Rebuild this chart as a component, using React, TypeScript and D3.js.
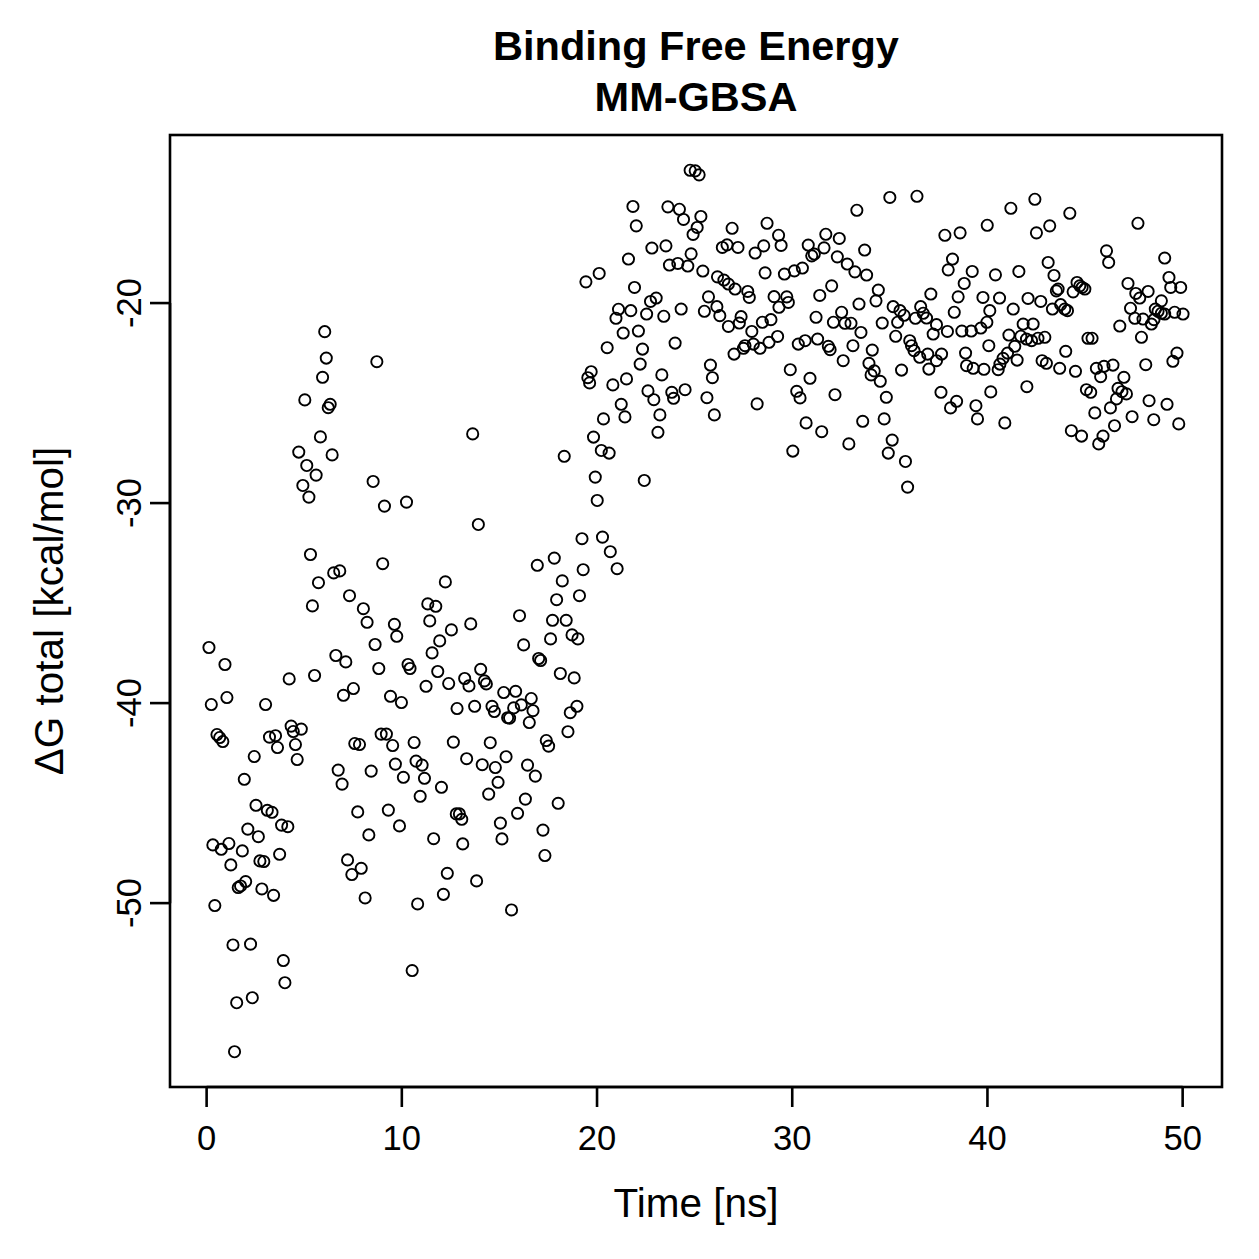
import React from "react";
import * as d3 from "d3";

// Sampled MM-GBSA binding free energy along the trajectory
const timeNs = [
  0.12,0.24,0.32,0.42,0.53,0.67,0.75,0.83,0.94,1.04,
  1.14,1.24,1.35,1.43,1.54,1.62,1.74,1.83,1.93,2.00,
  2.11,2.25,2.34,2.44,2.53,2.65,2.73,2.83,2.93,3.02,
  3.11,3.22,3.35,3.43,3.53,3.63,3.74,3.84,3.93,4.01,
  4.16,4.23,4.33,4.44,4.55,4.64,4.72,4.85,4.93,5.03,
  5.13,5.24,5.32,5.42,5.53,5.61,5.73,5.83,5.94,6.05,
  6.13,6.23,6.33,6.43,6.51,6.62,6.74,6.82,6.94,7.01,
  7.13,7.22,7.32,7.44,7.52,7.59,7.74,7.83,7.92,8.03,
  8.12,8.22,8.31,8.43,8.53,8.63,8.72,8.82,8.94,9.02,
  9.11,9.21,9.31,9.42,9.53,9.62,9.67,9.74,9.88,9.98,
  10.08,10.24,10.32,10.42,10.53,10.63,10.73,10.81,10.94,11.04,
  11.16,11.24,11.33,11.43,11.55,11.63,11.74,11.84,11.94,12.03,
  12.13,12.23,12.33,12.40,12.54,12.64,12.79,12.83,12.95,13.07,
  13.12,13.22,13.32,13.44,13.53,13.63,13.73,13.83,13.92,14.04,
  14.12,14.23,14.33,14.45,14.53,14.62,14.74,14.79,14.93,15.05,
  15.13,15.22,15.34,15.42,15.52,15.62,15.73,15.83,15.93,16.03,
  16.12,16.24,16.33,16.44,16.53,16.63,16.72,16.84,16.94,17.01,
  17.11,17.23,17.33,17.40,17.52,17.62,17.72,17.81,17.93,18.01,
  18.12,18.22,18.32,18.42,18.51,18.63,18.72,18.83,18.97,19.02,
  19.10,19.23,19.29,
  19.43,19.53,19.62,19.70,19.82,19.91,20.01,20.11,20.22,20.28,
  20.33,20.52,20.62,20.68,20.81,20.97,21.03,21.10,21.24,21.34,
  21.43,21.51,21.61,21.73,21.84,21.92,22.01,22.12,22.21,22.33,
  22.42,22.54,22.61,22.74,22.81,22.91,23.03,23.12,23.22,23.32,
  23.42,23.53,23.63,23.71,23.83,23.92,24.00,24.14,24.22,24.31,
  24.43,24.51,24.65,24.77,24.82,24.92,25.03,25.13,25.23,25.32,
  25.42,25.50,25.63,25.71,25.81,25.91,26.01,26.14,26.17,26.29,
  26.42,26.50,26.66,26.73,26.73,26.92,27.02,27.07,27.22,27.29,
  27.38,27.50,27.58,27.72,27.80,27.93,28.01,28.10,28.20,28.35,
  28.47,28.54,28.61,28.71,28.81,28.91,29.07,29.25,29.30,29.32,
  29.43,29.60,29.72,29.80,29.90,30.03,30.11,30.23,30.31,30.40,
  30.52,30.66,30.71,30.82,30.91,31.00,31.13,31.22,31.30,31.41,
  31.51,31.63,31.72,31.85,31.94,32.02,32.11,32.19,32.31,32.41,
  32.53,32.61,32.70,32.82,32.90,33.01,33.11,33.21,33.31,33.42,
  33.52,33.61,33.71,33.81,33.93,34.04,34.10,34.20,34.29,34.41,
  34.51,34.61,34.71,34.82,34.92,35.00,35.12,35.17,35.30,35.40,
  35.52,35.60,35.73,35.80,35.91,36.02,36.11,36.24,36.31,36.39,
  36.53,36.58,36.71,36.88,36.94,37.00,37.10,37.22,37.39,37.39,
  37.62,37.65,37.82,37.95,37.99,38.11,38.21,38.30,38.42,38.50,
  38.60,38.69,38.81,38.88,38.93,39.17,39.22,39.27,39.41,39.49,
  39.66,39.77,39.82,39.97,39.99,40.07,40.12,40.17,40.41,40.55,
  40.62,40.64,40.80,40.89,41.03,41.10,41.20,41.32,41.40,41.52,
  41.61,41.71,41.83,42.00,42.02,42.08,42.26,42.34,42.43,42.51,
  42.59,42.73,42.80,42.94,43.02,43.11,43.19,43.33,43.41,43.53,
  43.62,43.70,43.75,43.96,44.01,44.10,44.22,44.30,44.39,44.51,
  44.59,44.73,44.82,44.85,44.99,45.07,45.15,45.29,45.36,45.50,
  45.58,45.70,45.80,45.92,45.97,46.10,46.21,46.30,46.43,46.51,
  46.61,46.69,46.78,46.89,46.99,47.12,47.20,47.33,47.41,47.55,
  47.60,47.71,47.80,47.89,47.97,48.11,48.23,48.28,48.40,48.52,
  48.53,48.60,48.74,48.91,48.91,49.08,49.08,49.20,49.30,49.39,
  49.50,49.59,49.71,49.80,49.90,50.02,
];

const deltaG = [
  -37.22,-40.07,-47.09,-50.12,-41.57,-41.72,-47.31,-41.92,-38.07,-39.72,
  -47.02,-48.09,-52.09,-57.43,-54.98,-49.22,-49.14,-47.39,-43.81,-48.92,
  -46.30,-52.05,-54.73,-42.67,-45.11,-46.68,-47.89,-49.29,-47.92,-40.07,
  -45.36,-41.70,-45.46,-49.61,-41.63,-42.22,-47.56,-46.10,-52.87,-53.98,
  -46.18,-38.79,-41.15,-41.42,-42.07,-42.82,-27.45,-41.30,-29.12,-24.84,
  -28.12,-29.70,-32.57,-35.14,-38.62,-28.60,-33.98,-26.69,-23.71,-21.43,
  -22.75,-25.23,-25.06,-27.59,-33.49,-37.62,-43.35,-33.39,-44.05,-39.61,
  -37.94,-47.84,-34.63,-48.57,-39.27,-42.02,-45.44,-42.07,-48.26,-35.28,
  -49.74,-35.96,-46.59,-43.40,-28.92,-37.07,-22.93,-38.27,-41.55,-33.03,
  -30.15,-41.55,-45.35,-39.66,-42.12,-36.06,-43.05,-36.66,-46.14,-39.97,
  -43.71,-29.95,-38.07,-38.27,-53.37,-41.97,-42.90,-50.04,-44.66,-43.10,
  -43.76,-39.16,-35.04,-35.89,-37.49,-46.78,-35.16,-38.42,-36.89,-44.21,
  -49.56,-33.94,-48.51,-39.02,-36.34,-41.95,-45.54,-40.27,-45.54,-45.81,
  -47.04,-38.77,-42.78,-39.14,-36.04,-26.54,-40.16,-48.89,-31.07,-38.31,
  -43.08,-38.89,-39.04,-44.55,-41.98,-40.16,-40.42,-43.22,-43.96,-46.00,
  -46.79,-39.47,-42.68,-40.73,-40.75,-50.34,-40.24,-39.41,-45.51,-35.63,
  -40.09,-37.09,-44.80,-43.10,-40.97,-39.77,-40.38,-43.65,-33.11,-37.77,
  -37.87,-46.35,-47.62,-41.87,-42.15,-36.79,-35.86,-32.75,-34.83,-45.01,
  -38.52,-33.89,-27.66,-35.86,-41.43,-40.48,-36.59,-38.74,-40.16,-36.79,
  -34.63,-31.78,-33.33,
  -18.94,-23.73,-23.99,-23.43,-26.70,-28.70,-29.87,-18.52,-27.37,-31.70,
  -25.79,-22.23,-27.50,-32.43,-24.09,-20.76,-33.28,-20.31,-25.06,-21.50,
  -25.69,-23.79,-17.80,-20.38,-15.17,-19.22,-16.14,-21.40,-23.05,-22.30,
  -28.87,-20.55,-24.39,-19.92,-17.25,-24.83,-19.75,-26.46,-25.59,-23.59,
  -20.66,-17.14,-15.19,-18.10,-24.46,-24.76,-22.00,-18.02,-15.31,-20.30,
  -15.82,-24.33,-18.15,-13.36,-17.54,-16.57,-13.39,-16.22,-13.59,-15.67,
  -18.40,-20.41,-24.73,-19.69,-23.10,-23.73,-25.59,-20.18,-18.69,-20.63,
  -17.22,-18.85,-17.09,-21.17,-19.05,-16.26,-22.55,-19.30,-17.22,-21.00,
  -20.68,-22.26,-22.13,-19.42,-19.72,-21.42,-22.05,-17.50,-25.04,-22.26,
  -20.96,-17.14,-18.49,-16.01,-21.96,-20.83,-19.68,-21.67,-16.61,-20.21,
  -17.12,-18.55,-19.69,-19.97,-23.33,-27.40,-18.39,-24.41,-22.05,-24.74,
  -18.25,-21.88,-25.99,-17.10,-23.76,-17.64,-17.55,-20.71,-21.80,-19.62,
  -26.43,-17.24,-16.56,-22.16,-22.33,-19.14,-20.96,-24.58,-17.69,-16.77,
  -20.46,-22.88,-21.01,-18.05,-27.04,-21.01,-22.13,-18.44,-15.36,-20.05,
  -21.47,-25.91,-17.35,-18.60,-23.01,-23.59,-22.35,-23.39,-19.89,-19.35,
  -23.91,-21.00,-25.79,-24.71,-27.50,-14.72,-26.85,-20.18,-21.66,-20.96,
  -20.38,-23.35,-20.61,-27.92,-29.20,-21.88,-22.13,-22.38,-20.76,-14.66,
  -22.71,-20.18,-20.51,-20.75,-22.55,-23.30,-19.55,-21.55,-22.88,-21.08,
  -24.46,-22.55,-16.61,-21.42,-18.34,-25.24,-17.80,-20.46,-24.91,-19.69,
  -16.49,-21.40,-19.02,-22.50,-23.13,-21.40,-18.42,-23.26,-25.13,-25.79,
  -21.25,-19.72,-23.31,-20.96,-16.11,-22.13,-20.38,-24.44,-18.59,-23.33,
  -19.75,-23.05,-22.76,-25.99,-22.50,-21.60,-15.26,-20.30,-22.16,-22.85,
  -18.42,-21.66,-21.05,-21.80,-24.18,-19.77,-21.88,-21.05,-14.81,-16.49,
  -21.76,-19.92,-22.88,-21.71,-23.01,-17.97,-16.14,-20.30,-18.62,-19.39,
  -19.30,-23.26,-20.08,-20.30,-22.41,-20.38,-15.51,-26.38,-19.44,-23.41,
  -18.97,-19.14,-26.65,-19.22,-19.30,-24.33,-21.76,-24.46,-21.76,-25.49,
  -23.26,-27.04,-23.68,-26.65,-23.16,-17.39,-17.97,-25.24,-23.10,-26.13,
  -24.79,-24.26,-21.15,-24.43,-23.71,-24.54,-19.02,-20.26,-25.68,-20.76,
  -19.52,-16.01,-19.75,-21.71,-20.80,-23.08,-19.42,-24.88,-21.05,-25.83,
  -20.83,-20.30,-20.41,-19.89,-20.51,-17.75,-20.55,-25.06,-18.72,-19.22,
  -22.91,-20.46,-22.50,-26.04,-19.22,-20.55,
];

const xTicks = [0, 10, 20, 30, 40, 50];
const yTicks = [-50, -40, -30, -20];
const titleLines = ["Binding Free Energy", "MM-GBSA"];
const xLabel = "Time [ns]";
const yLabel = "\u0394G total [kcal/mol]";

const FONT = "'Liberation Sans', Arial, Helvetica, sans-serif";

// pad a data extent by 4% on both sides, like R's default axis style
function padExtent(ext: [number, number]): [number, number] {
  const r = ext[1] - ext[0];
  return [ext[0] - 0.04 * r, ext[1] + 0.04 * r];
}

export default function App() {
  const W = 1259;
  const H = 1259;
  const box = { left: 170, right: 1222, top: 135, bottom: 1087 };
  const axisSize = 34.6;
  const labelSize = 40.5;
  const titleSize = 41.5;
  const tick = 20;

  const x = d3
    .scaleLinear()
    .domain(padExtent(d3.extent(timeNs) as [number, number]))
    .range([box.left, box.right]);
  const y = d3
    .scaleLinear()
    .domain(padExtent(d3.extent(deltaG) as [number, number]))
    .range([box.bottom, box.top]);

  const points = timeNs.map((t, i) => ({ t, g: deltaG[i] }));
  const cx = (box.left + box.right) / 2;
  const cy = (box.top + box.bottom) / 2;

  return (
    <div style={{ position: "absolute", left: 0, top: 0 }}>
      <svg width={W} height={H} viewBox={`0 0 ${W} ${H}`} style={{ display: "block", background: "#fff" }}>
        <rect x={0} y={0} width={W} height={H} fill="#fff" />

        {/* title */}
        {titleLines.map((line, i) => (
          <text
            key={line}
            x={cx}
            y={60 + i * 51}
            textAnchor="middle"
            fontFamily={FONT}
            fontWeight="bold"
            fontSize={titleSize}
            fill="#000"
          >
            {line}
          </text>
        ))}

        {/* points */}
        <g fill="none" stroke="#000" strokeWidth={1.9}>
          {points.map((p, i) => (
            <circle key={i} cx={x(p.t)} cy={y(p.g)} r={5.6} />
          ))}
        </g>

        {/* x axis */}
        <g stroke="#000" strokeWidth={2.6}>
          <line x1={x(xTicks[0])} x2={x(xTicks[xTicks.length - 1])} y1={box.bottom} y2={box.bottom} />
          {xTicks.map((t) => (
            <line key={t} x1={x(t)} x2={x(t)} y1={box.bottom} y2={box.bottom + tick} />
          ))}
        </g>
        {xTicks.map((t) => (
          <text key={t} x={x(t)} y={1150} textAnchor="middle" fontFamily={FONT} fontSize={axisSize} fill="#000">
            {t}
          </text>
        ))}

        {/* y axis */}
        <g stroke="#000" strokeWidth={2.6}>
          <line x1={box.left} x2={box.left} y1={y(yTicks[0])} y2={y(yTicks[yTicks.length - 1])} />
          {yTicks.map((v) => (
            <line key={v} x1={box.left} x2={box.left - tick} y1={y(v)} y2={y(v)} />
          ))}
        </g>
        {yTicks.map((v) => (
          <text
            key={v}
            transform={`translate(${141},${y(v)}) rotate(-90)`}
            textAnchor="middle"
            fontFamily={FONT}
            fontSize={axisSize}
            fill="#000"
          >
            {v}
          </text>
        ))}

        {/* axis titles */}
        <text x={cx} y={1217} textAnchor="middle" fontFamily={FONT} fontSize={labelSize} fill="#000">
          {xLabel}
        </text>
        <text
          transform={`translate(${63},${cy}) rotate(-90)`}
          textAnchor="middle"
          fontFamily={FONT}
          fontSize={labelSize}
          fill="#000"
        >
          {yLabel}
        </text>

        {/* plot frame */}
        <rect
          x={box.left}
          y={box.top}
          width={box.right - box.left}
          height={box.bottom - box.top}
          fill="none"
          stroke="#000"
          strokeWidth={2.6}
        />
      </svg>
    </div>
  );
}
